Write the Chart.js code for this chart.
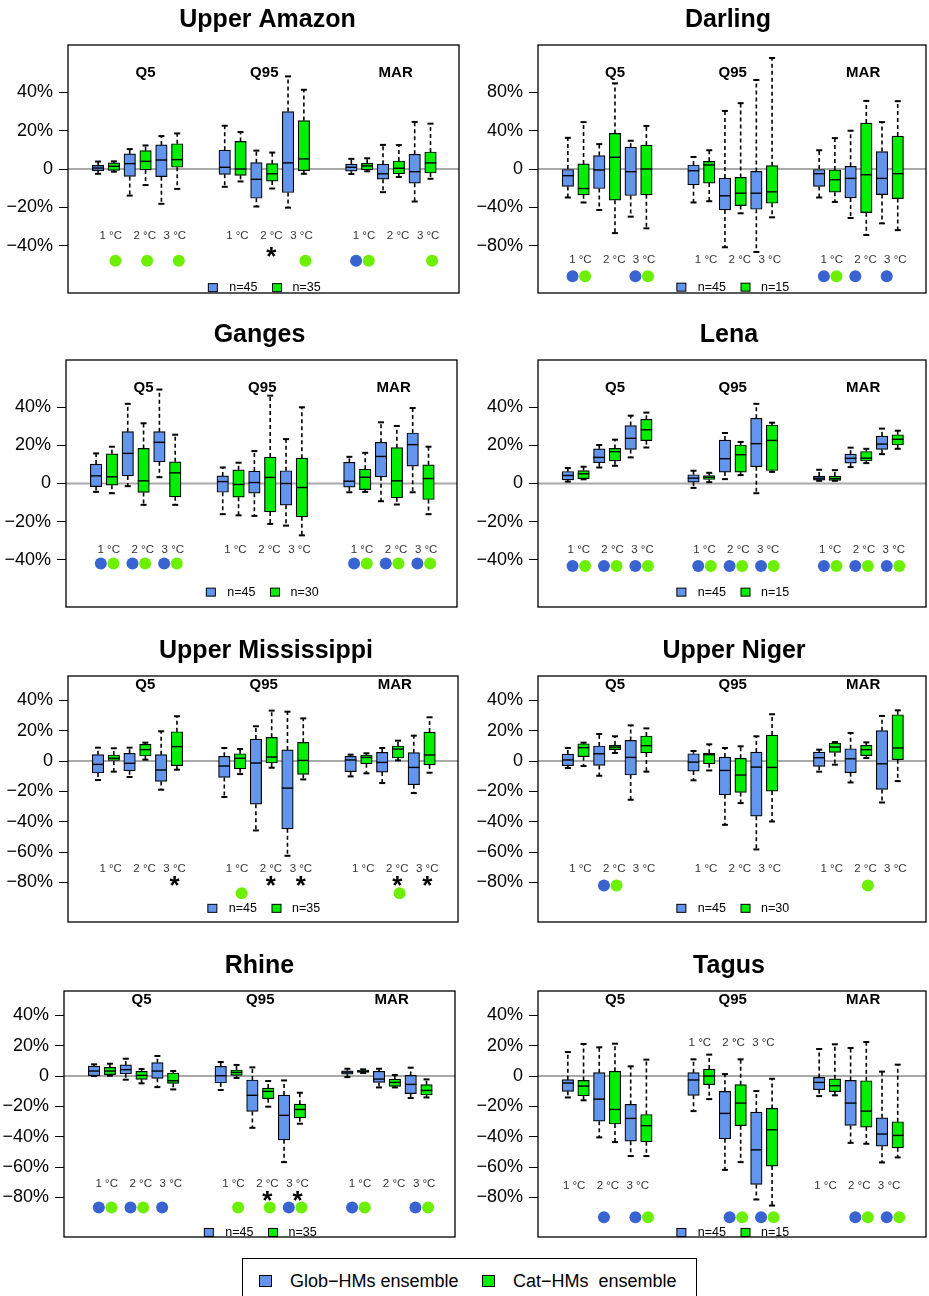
<!DOCTYPE html>
<html>
<head>
<meta charset="utf-8">
<script src="https://cdn.jsdelivr.net/npm/chart.js@4.4.0/dist/chart.umd.min.js"></script>
<style>
  body { margin: 0; background: #fff; width: 929px; height: 1296px; overflow: hidden; position: relative;
         font-family: "Liberation Sans", Arial, sans-serif; }
  canvas { position: absolute; }
  #legend { position: absolute; left: 242px; top: 1258px; width: 455px; height: 60px;
            border: 1px solid #000; box-sizing: border-box; }
  #legend .sq { position: absolute; top: 16px; width: 13px; height: 12px; border: 1px solid #000; box-sizing: border-box; }
  #legend .lt { position: absolute; top: 13px; font-size: 18px; line-height: 18px; white-space: pre; color: #000; }
</style>
</head>
<body>
<div id="legend">
  <span class="sq" style="left:16px;background:#6495ED"></span><span class="lt" style="left:47px">Glob−HMs ensemble</span>
  <span class="sq" style="left:239px;background:#00EE00"></span><span class="lt" style="left:270px">Cat−HMs  ensemble</span>
</div>
<script>
// categories
const indicators = ['Q5', 'Q95', 'MAR'];
const warming = ['1 °C', '2 °C', '3 °C'];
const nGlob = 45;
const nCat = [35, 15, 30, 15, 35, 30, 35, 15];

// y tick labels
const ticksSmall = [-40, -20, 0, 20, 40];
const ticksDarling = [-80, -40, 0, 40, 80];
const ticksWide = [-80, -60, -40, -20, 0, 20, 40];

// boxes: [min, q1, median, q3, max], order Q5 1/2/3 °C, Q95 1/2/3 °C, MAR 1/2/3 °C
const amazonGlob = [[-2.5,-0.9,0.5,1.9,3.9],[-13.9,-3.9,2.8,7.9,10.4],[-18.2,-4,4.7,12.6,17.2],
  [-9.3,-2.8,0.9,9.8,22.6],[-19.6,-15.3,-5.4,3.3,9.6],[-20.2,-12.3,3.2,30,48.4],
  [-2.6,-1.1,0.9,2.6,5.3],[-12.1,-5.3,-2.5,2.5,12.6],[-17,-7.4,-1.4,7.7,24.6]];
const amazonCat = [[-1.4,-0.7,1.4,3.2,4],[-8.4,-0.5,4,9.6,12.3],[-10.4,0.9,4.9,13.2,18.6],
  [-6.5,-3.3,0,14.4,19.3],[-10.2,-6.3,-2.5,2.8,8.6],[-2.5,-0.9,5.3,25.3,41.4],
  [-1.2,-0.5,1.6,3,5.6],[-4.2,-2.5,0.4,4.2,12.5],[-5.1,-2.1,3.2,8.9,23.7]];

const darlingGlob = [[-29.8,-18.2,-7,0,32.6],[-42.8,-20.4,-1,14,26],[-49.8,-27.7,-2.8,22.8,29.5],
  [-35,-16.5,-1.8,4.2,12.6],[-81.8,-42.8,-28,-9.5,60.7],[-86.7,-42.1,-25.3,-2.5,93],
  [-29.8,-18.2,-4.9,0,19.6],[-51.2,-30.2,-9.8,2.8,40],[-56.8,-26.7,-9.8,18.2,49]];
const darlingCat = [[-35,-27,-20.4,5.3,49],[-67,-32.6,12.3,37.2,89.5],[-62,-27,0,25,45],
  [-33.7,-14.7,4.2,8,19.6],[-46.3,-38.2,-25.3,-8.8,68.8],[-50.5,-35.8,-23.9,3.5,116],
  [-34.4,-24.2,-11.2,-1,32.3],[-69,-45.6,-6,48,71.2],[-63.9,-30.9,-4.9,34.4,70.9]];

const gangesGlob = [[-4.4,-1.6,4,10.2,15.8],[-1.4,4,15.8,27.2,41.8],[3.3,11.4,21.6,27.2,49.3],
  [-16.1,-4.6,1,4,8.4],[-17,-5.1,0.5,6.5,17],[-22.1,-11.4,0,6.7,23.3],
  [-4.6,-1.9,1.2,11.1,14],[-9.3,3.5,14.2,21.6,32.1],[-4.6,9.1,20.4,26.5,39.6]];
const gangesCat = [[-5.1,-0.9,3.5,15.6,19.3],[-11.2,-4.7,1.4,18.4,31.6],[-11.2,-7,5.6,11.4,25.6],
  [-16.7,-7.2,-0.5,7.2,10.9],[-21.2,-14.9,3.2,13.9,46.1],[-27.2,-17.5,-2.1,13.3,40],
  [-4.4,-3.2,3.3,7.5,16.1],[-11,-7.5,1.4,18.8,30.2],[-16.1,-8.4,2.6,9.8,19.3]];

const lenaGlob = [[1,1.9,4.2,6.3,8.1],[8.4,10.9,13.7,18.2,20.2],[13.7,17.9,23.7,30.4,35.6],
  [-2.3,0.7,2.8,4.6,6.7],[2.3,6,13,22.8,26.5],[-5.1,8.8,20.9,34.2,41.8],
  [1.4,1.8,2.8,3.9,7.2],[8.6,10.7,13.2,15.4,18.8],[15.4,17.9,20.7,24.9,28.8]];
const lenaCat = [[2.2,2.5,5.1,6.8,8.8],[9.3,11.9,16.7,18.4,23],[18.9,22.5,28.2,33.7,37.2],
  [0.7,2.1,3.3,4.2,5.6],[4.4,6,15.1,20.2,21.8],[6.1,6.8,22.6,30.7,31.9],
  [1.4,1.6,2.6,3.9,7],[10.7,11.8,13.3,16.8,18.2],[18.2,20.2,23.2,25.6,27.7]];

const missGlob = [[-12.5,-7.9,-2.2,4.2,8.8],[-10.5,-6.4,-1.5,5.1,8.8],[-18.9,-13.4,-5.9,4.2,19.6],
  [-23.7,-10.8,-3.3,3.1,8.6],[-45.7,-28.4,-1.3,14.5,22.9],[-62.4,-44.6,-17.8,7.3,32.5],
  [-10.1,-7,0.7,3.1,4.2],[-14.5,-7.3,-0.9,5.7,8.6],[-21.1,-15.6,-4.2,5.5,16.7]];
const missCat = [[-7,0,1.8,4,8.4],[0.9,3.3,7.5,11,12.1],[-5.7,-3.1,9.5,19.3,29.5],
  [-8.6,-5.1,1.8,4.8,7.9],[-4.4,-1.3,2.6,15.6,33.2],[-12.1,-8.8,0.4,12.3,28.1],
  [-8.1,-1.8,2.4,4,5.1],[0.4,2,7.9,9.9,13.4],[-7.7,-2.6,4,19.1,28.8]];

const nigerGlob = [[-4.6,-3.1,0.7,4.6,8.6],[-9.7,-2.9,4.8,9.9,17.8],[-25.5,-9.2,2.4,13.6,23.5],
  [-12.7,-6.6,-0.7,4.8,6.6],[-42,-22.2,-6.2,2.6,8.6],[-58.2,-36.3,-4,5.9,16.3],
  [-7,-3.5,2.2,5.9,7.5],[-14.1,-7.7,1.5,8.1,18.5],[-27.3,-18.7,-1.8,20,29.7]];
const nigerCat = [[-3.3,2.9,8.8,11.4,12.1],[5.3,7.5,9.2,10.5,16.3],[-7,5.3,10.1,16.5,21.5],
  [-6.2,-1.8,4.2,5.1,11],[-27.7,-20.7,-9.2,1.8,9.7],[-39.8,-19.8,-4.2,17.1,30.8],
  [-2.4,5.7,9.2,11.9,12.5],[2,3.5,7.5,10.3,12.3],[-13.2,0.9,8.6,30.5,33.4]];

const rhineGlob = [[0,0.2,3.3,6.6,7.7],[-2.4,1.5,4.2,7.3,11.4],[-7.3,-1.5,3.3,8.8,13.2],
  [-9.2,-4.6,0.2,6.4,9.2],[-34.1,-23.3,-12.7,-2.6,5.7],[-56.7,-42,-25.9,-12.5,-2.9],
  [-0.7,1.3,2.6,3.5,4.8],[-7.5,-4.2,-2,3.1,4.8],[-14.5,-11.6,-5.5,0.4,5.5]];
const rhineCat = [[0.2,0.9,3.3,5.7,8.1],[-4.8,-2.2,0.4,3.1,4.6],[-8.8,-4.8,-3.1,2,3.3],
  [-1.3,0.4,2.4,4,7.3],[-20.2,-14.9,-10.1,-7.9,-3.3],[-31.4,-27.5,-22,-18.5,-11],
  [2,2.4,3.1,4,4.4],[-7.5,-6.8,-4.2,-2,0.7],[-14.1,-12.5,-9.5,-5.7,-2.2]];

const tagusGlob = [[-14.1,-10.1,-4.6,-2.4,15.8],[-40.4,-29.7,-15.2,2.2,18.9],[-52.7,-42.9,-27.9,-18.7,6.4],
  [-23.1,-12.7,-2.6,2.2,11],[-61.8,-41.3,-24.6,-10.1,1.3],[-81.3,-71.4,-48.6,-23.7,-9.9],
  [-13.2,-9,-4.2,-0.9,17.8],[-44,-32.5,-17.8,-2.9,18.5],[-56.9,-46.2,-38.2,-27.5,2.9]];
const tagusCat = [[-16,-13,-6.6,-2.9,21.1],[-43.5,-31.6,-22,3.1,21.3],[-52.7,-43.3,-32.7,-25.3,10.8],
  [-15.2,-5.7,0,4.6,14.1],[-56.7,-32.7,-17.8,-5.7,11],[-85.3,-59.3,-35.4,-21.3,-1.8],
  [-12.7,-10.3,-6.4,-1.8,20.9],[-44.6,-33.6,-23.1,-3.1,22.4],[-53.6,-47.3,-39.1,-30.1,7.5]];

// significance dots (1 = shown) and stars, same order as the boxes
const amazonSigGlob = [0,0,0, 0,0,0, 1,0,0];
const amazonSigCat  = [1,1,1, 0,0,1, 1,0,1];
const amazonStar    = [0,0,0, 0,1,0, 0,0,0];
const darlingSigGlob = [1,0,1, 0,0,0, 1,1,1];
const darlingSigCat  = [1,0,1, 0,0,0, 1,0,0];
const darlingStar    = [0,0,0, 0,0,0, 0,0,0];
const gangesSigGlob = [1,1,1, 0,0,0, 1,1,1];
const gangesSigCat  = [1,1,1, 0,0,0, 1,1,1];
const gangesStar    = [0,0,0, 0,0,0, 0,0,0];
const lenaSigGlob = [1,1,1, 1,1,1, 1,1,1];
const lenaSigCat  = [1,1,1, 1,1,1, 1,1,1];
const lenaStar    = [0,0,0, 0,0,0, 0,0,0];
const missSigGlob = [0,0,0, 0,0,0, 0,0,0];
const missSigCat  = [0,0,0, 1,0,0, 0,1,0];
const missStar    = [0,0,1, 0,1,1, 0,1,1];
const nigerSigGlob = [0,1,0, 0,0,0, 0,0,0];
const nigerSigCat  = [0,1,0, 0,0,0, 0,1,0];
const nigerStar    = [0,0,0, 0,0,0, 0,0,0];
const rhineSigGlob = [1,1,1, 0,0,1, 1,0,1];
const rhineSigCat  = [1,1,0, 1,1,1, 1,0,1];
const rhineStar    = [0,0,0, 0,1,1, 0,0,0];
const tagusSigGlob = [0,1,1, 0,1,1, 0,1,1];
const tagusSigCat  = [0,0,1, 0,1,1, 0,1,1];
const tagusStar    = [0,0,0, 0,0,0, 0,0,0];

// layout of each panel (box in page px, text levels in data units)
const ySmall = [-64.8, 64.8], yDarling = [-129.6, 129.6], yWide = [-106, 56];
const panels = [
  { title: 'Upper Amazon', glob: amazonGlob, cat: amazonCat, sg: amazonSigGlob, sc: amazonSigCat, st: amazonStar,
    n: nCat[0], ticks: ticksSmall, ylim: ySmall, box: [68, 45, 459, 293], tdx: 4,
    headY: 50, tempY: [-35, -35, -35], starY: -42.5, dotY: -48, legY: -62, shift: 0 },
  { title: 'Darling', glob: darlingGlob, cat: darlingCat, sg: darlingSigGlob, sc: darlingSigCat, st: darlingStar,
    n: nCat[1], ticks: ticksDarling, ylim: yDarling, box: [538, 45, 926, 293], tdx: -4,
    headY: 100, tempY: [-95.4, -95.4, -95.4], starY: -105, dotY: -112, legY: -123.5, shift: 0 },
  { title: 'Ganges', glob: gangesGlob, cat: gangesCat, sg: gangesSigGlob, sc: gangesSigCat, st: gangesStar,
    n: nCat[2], ticks: ticksSmall, ylim: ySmall, box: [66, 360, 457, 607], tdx: -2,
    headY: 50, tempY: [-35, -35, -35], starY: -42, dotY: -42, legY: -57, shift: 0 },
  { title: 'Lena', glob: lenaGlob, cat: lenaCat, sg: lenaSigGlob, sc: lenaSigCat, st: lenaStar,
    n: nCat[3], ticks: ticksSmall, ylim: ySmall, box: [538, 360, 926, 607], tdx: -3,
    headY: 50, tempY: [-35, -35, -35], starY: -42, dotY: -43.3, legY: -57, shift: -0.1 },
  { title: 'Upper Mississippi', glob: missGlob, cat: missCat, sg: missSigGlob, sc: missSigCat, st: missStar,
    n: nCat[4], ticks: ticksWide, ylim: yWide, box: [68, 676, 458, 922], tdx: 3,
    headY: 50, tempY: [-71, -71, -71], starY: -77.6, dotY: -87, legY: -97, shift: 0 },
  { title: 'Upper Niger', glob: nigerGlob, cat: nigerCat, sg: nigerSigGlob, sc: nigerSigCat, st: nigerStar,
    n: nCat[5], ticks: ticksWide, ylim: yWide, box: [538, 676, 926, 922], tdx: 2,
    headY: 50, tempY: [-71, -71, -71], starY: -77.6, dotY: -82, legY: -97, shift: 0 },
  { title: 'Rhine', glob: rhineGlob, cat: rhineCat, sg: rhineSigGlob, sc: rhineSigCat, st: rhineStar,
    n: nCat[6], ticks: ticksWide, ylim: yWide, box: [64, 991, 455, 1237], tdx: 0,
    headY: 50, tempY: [-71, -71, -71], starY: -78, dotY: -86.6, legY: -103, shift: 0 },
  { title: 'Tagus', glob: tagusGlob, cat: tagusCat, sg: tagusSigGlob, sc: tagusSigCat, st: tagusStar,
    n: nCat[7], ticks: ticksWide, ylim: yWide, box: [538, 991, 926, 1237], tdx: -3,
    headY: 50, tempY: [-72, 22, -72.5], starY: -78, dotY: -93, legY: -103, shift: -0.4 }
];

const FONT = '"Liberation Sans", Arial, Helvetica, sans-serif';
const BLUE = '#6495ED', GREEN = '#00EE00', DOT_BLUE = '#3A63D2', DOT_GREEN = '#6CF000';
const headX = [4, 11.5, 19.8];
const tempX = [1.8, 3.95, 5.85];

// x position of a box: group of 8 units per indicator, pairs glob/cat
function xPos(i, k) {
  const g = Math.floor(i / 3), t = i % 3;
  return 8 * g + 2 * t + 1 + k;
}

function fmtTick(v) {
  if (v === 0) return '0';
  return (v < 0 ? '\u2212' + (-v) : v) + '%';
}

function line(ctx, x1, y1, x2, y2) {
  ctx.beginPath(); ctx.moveTo(x1, y1); ctx.lineTo(x2, y2); ctx.stroke();
}

function makePlugin(p) {
  return {
    id: 'boxExtras',
    beforeDatasetsDraw(chart) {
      const { ctx, chartArea: a, scales: { y } } = chart;
      const y0 = y.getPixelForValue(0);
      ctx.save();
      ctx.strokeStyle = '#a9a9a9';
      ctx.lineWidth = 2;
      line(ctx, a.left, y0, a.right, y0);
      ctx.restore();
    },
    afterDatasetsDraw(chart) {
      const { ctx, scales: { x, y } } = chart;
      ctx.save();
      ctx.strokeStyle = '#000';
      [p.glob, p.cat].forEach((arr, k) => arr.forEach((b, i) => {
        const cx = x.getPixelForValue(xPos(i, k));
        // whiskers
        ctx.setLineDash([4, 3]);
        ctx.lineWidth = 1.6;
        line(ctx, cx, y.getPixelForValue(b[3]), cx, y.getPixelForValue(b[4]));
        line(ctx, cx, y.getPixelForValue(b[1]), cx, y.getPixelForValue(b[0]));
        ctx.setLineDash([]);
        ctx.lineWidth = 2;
        line(ctx, cx - 3, y.getPixelForValue(b[4]), cx + 3, y.getPixelForValue(b[4]));
        line(ctx, cx - 3, y.getPixelForValue(b[0]), cx + 3, y.getPixelForValue(b[0]));
        // median
        ctx.lineWidth = 1.4;
        line(ctx, cx - 5.75, y.getPixelForValue(b[2]), cx + 5.75, y.getPixelForValue(b[2]));
      }));
      ctx.restore();
    },
    afterDraw(chart) {
      const { ctx, chartArea: a, scales: { x, y } } = chart;
      const mid = (a.left + a.right) / 2;
      ctx.save();
      // frame
      ctx.strokeStyle = '#000';
      ctx.lineWidth = 1.3;
      ctx.strokeRect(a.left, a.top, a.right - a.left, a.bottom - a.top);
      // title
      ctx.fillStyle = '#000';
      ctx.font = 'bold 25px ' + FONT;
      ctx.textAlign = 'center';
      ctx.textBaseline = 'alphabetic';
      ctx.fillText(p.title, mid + p.tdx, a.top - 18);
      // indicator headers
      ctx.font = 'bold 15px ' + FONT;
      ctx.textBaseline = 'middle';
      indicators.forEach((s, g) => ctx.fillText(s, x.getPixelForValue(headX[g]), y.getPixelForValue(p.headY)));
      // warming labels, stars, dots
      for (let g = 0; g < 3; g++) {
        for (let t = 0; t < 3; t++) {
          const i = 3 * g + t;
          const lx = x.getPixelForValue(8 * g + tempX[t] + p.shift);
          ctx.font = '11.5px ' + FONT;
          ctx.fillStyle = '#333';
          ctx.textBaseline = 'middle';
          ctx.fillText(warming[t], lx, y.getPixelForValue(p.tempY[g]));
          if (p.st[i]) {
            ctx.font = 'bold 26px ' + FONT;
            ctx.fillStyle = '#000';
            ctx.textBaseline = 'alphabetic';
            ctx.fillText('*', lx, y.getPixelForValue(p.starY) + 15);
          }
          const k = 8 * g + 2 * t + 2;
          const dy = y.getPixelForValue(p.dotY);
          if (p.sg[i]) {
            ctx.fillStyle = DOT_BLUE;
            ctx.beginPath(); ctx.arc(x.getPixelForValue(k - 0.7), dy, 6, 0, Math.PI * 2); ctx.fill();
          }
          if (p.sc[i]) {
            ctx.fillStyle = DOT_GREEN;
            ctx.beginPath(); ctx.arc(x.getPixelForValue(k + 0.1), dy, 6, 0, Math.PI * 2); ctx.fill();
          }
        }
      }
      // small legend in panel
      ctx.font = '12.5px ' + FONT;
      ctx.textBaseline = 'middle';
      ctx.textAlign = 'left';
      const t1 = 'n=' + nGlob, t2 = 'n=' + p.n;
      const w1 = ctx.measureText(t1).width, w2 = ctx.measureText(t2).width;
      const total = 9 + 12 + w1 + 15 + 9 + 11 + w2;
      let lx = mid + 1 - total / 2;
      const ly = y.getPixelForValue(p.legY);
      ctx.lineWidth = 1;
      ctx.strokeStyle = '#000';
      ctx.fillStyle = BLUE;
      ctx.fillRect(lx, ly - 4, 9, 8); ctx.strokeRect(lx, ly - 4, 9, 8);
      ctx.fillStyle = '#000';
      ctx.fillText(t1, lx + 21, ly);
      lx += 21 + w1 + 15;
      ctx.fillStyle = GREEN;
      ctx.fillRect(lx, ly - 4, 9, 8); ctx.strokeRect(lx, ly - 4, 9, 8);
      ctx.fillStyle = '#000';
      ctx.fillText(t2, lx + 20, ly);
      ctx.restore();
    }
  };
}

panels.forEach(p => {
  const [x0, y0, x1, y1] = p.box;
  const W = (x1 - x0) + 70 + 8, H = (y1 - y0) + 45 + 24;
  const cv = document.createElement('canvas');
  cv.width = W; cv.height = H;
  cv.style.left = (x0 - 70) + 'px';
  cv.style.top = (y0 - 45) + 'px';
  cv.style.width = W + 'px';
  cv.style.height = H + 'px';
  document.body.appendChild(cv);

  const mk = (arr, k) => arr.map((b, i) => ({ x: xPos(i, k), y: [b[1], b[3]] }));

  new Chart(cv.getContext('2d'), {
    type: 'bar',
    data: {
      datasets: [
        { label: 'Glob-HMs ensemble', data: mk(p.glob, 0), backgroundColor: BLUE, borderColor: '#000',
          borderWidth: 1.2, borderSkipped: false, barThickness: 11.5, grouped: false },
        { label: 'Cat-HMs ensemble', data: mk(p.cat, 1), backgroundColor: GREEN, borderColor: '#000',
          borderWidth: 1.2, borderSkipped: false, barThickness: 11.5, grouped: false }
      ]
    },
    options: {
      responsive: false,
      animation: false,
      layout: { padding: { left: 0, right: 8, top: 45, bottom: 24 } },
      plugins: { legend: { display: false }, tooltip: { enabled: false }, title: { display: false } },
      scales: {
        x: { type: 'linear', min: -0.9, max: 23.8, offset: false, display: false },
        y: {
          min: p.ylim[0], max: p.ylim[1],
          afterBuildTicks: s => { s.ticks = p.ticks.map(v => ({ value: v })); },
          afterFit: s => { s.width = 70; s.paddingTop = 0; s.paddingBottom = 0; },
          border: { display: false },
          grid: { drawOnChartArea: false, color: '#000', tickLength: 9, lineWidth: 1 },
          ticks: { callback: v => fmtTick(v), color: '#000', padding: 6, font: { size: 18, family: FONT } }
        }
      }
    },
    plugins: [makePlugin(p)]
  });
});
</script>
</body>
</html>
